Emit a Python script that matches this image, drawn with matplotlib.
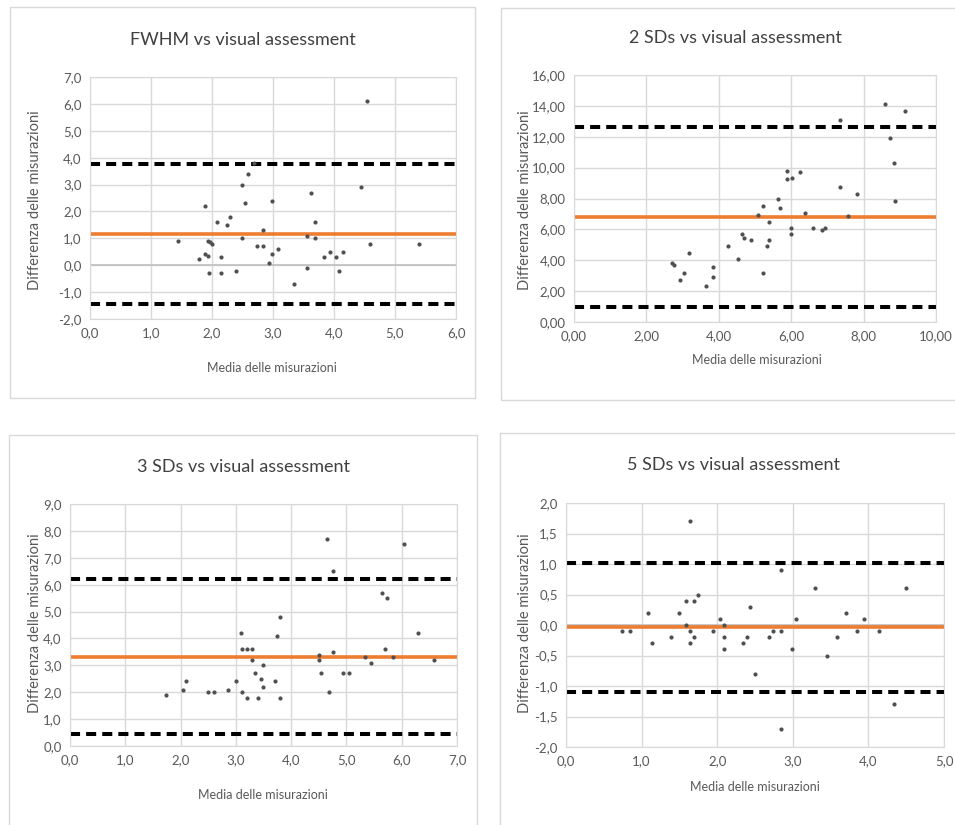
import matplotlib
matplotlib.use("Agg")
import matplotlib.pyplot as plt
from matplotlib.patches import Rectangle
from matplotlib.ticker import MultipleLocator, FuncFormatter

plt.rcParams["font.family"] = ["Lato", "DejaVu Sans"]

# ── Dati (Bland-Altman) ─────────────────────────────────────────────────────
titles = ["FWHM vs visual assessment", "2 SDs vs visual assessment",
          "3 SDs vs visual assessment", "5 SDs vs visual assessment"]
xlabel = "Media delle misurazioni"
ylabel = "Differenza delle misurazioni"

fwhm_x = [1.45, 1.79, 1.89, 1.89, 1.93, 1.93, 1.97, 2.00, 1.95, 2.09, 2.14, 2.14,
          2.25, 2.29, 2.39, 2.49, 2.49, 2.54, 2.59, 2.69, 2.74, 2.84, 2.84, 2.94,
          2.99, 2.99, 3.09, 3.34, 3.55, 3.55, 3.63, 3.69, 3.69, 3.84, 3.94, 4.04,
          4.09, 4.14, 4.44, 4.54, 4.59, 5.40]
fwhm_y = [0.9, 0.25, 2.2, 0.4, 0.35, 0.9, 0.85, 0.8, -0.3, 1.6, 0.3, -0.3,
          1.5, 1.8, -0.2, 3.0, 1.0, 2.3, 3.4, 3.8, 0.7, 1.3, 0.7, 0.1,
          2.4, 0.4, 0.6, -0.7, 1.1, -0.1, 2.7, 1.6, 1.0, 0.3, 0.5, 0.3,
          -0.2, 0.5, 2.9, 6.1, 0.8, 0.8]

sd2_x = [2.70, 2.75, 2.93, 3.04, 3.19, 3.64, 3.84, 3.84, 4.25, 4.54,
         4.63, 4.69, 4.89, 5.09, 5.23, 5.23, 5.32, 5.38, 5.39, 5.64,
         5.69, 5.89, 5.89, 6.03, 6.00, 6.00, 6.23, 6.39, 6.59, 6.84,
         6.92, 7.34, 7.34, 7.58, 7.83, 8.58, 8.74, 8.83, 8.87, 9.14]
sd2_y = [3.85, 3.7, 2.75, 3.15, 4.45, 2.35, 3.55, 2.9, 4.95, 4.1,
         5.7, 5.45, 5.3, 6.9, 7.5, 3.15, 4.95, 5.3, 6.45, 7.95,
         7.4, 9.8, 9.25, 9.3, 6.1, 5.7, 9.7, 7.05, 6.1, 5.95,
         6.1, 8.75, 13.1, 6.85, 8.3, 14.15, 11.9, 10.3, 7.85, 13.65]

sd3_x = [1.74, 2.05, 2.09, 2.50, 2.60, 2.85, 3.00, 3.10, 3.11, 3.11,
         3.20, 3.20, 3.30, 3.30, 3.35, 3.40, 3.45, 3.49, 3.49, 3.70,
         3.74, 3.80, 3.80, 4.50, 4.50, 4.54, 4.64, 4.69, 4.75, 4.75,
         4.94, 5.04, 5.34, 5.45, 5.64, 5.74, 5.69, 5.85, 6.04, 6.29, 6.58]
sd3_y = [1.9, 2.1, 2.4, 2.0, 2.0, 2.1, 2.4, 4.2, 3.6, 2.0,
         3.6, 1.8, 3.6, 3.2, 2.7, 1.8, 2.5, 3.0, 2.2, 2.4,
         4.1, 4.8, 1.8, 3.4, 3.2, 2.7, 7.7, 2.0, 6.5, 3.5,
         2.7, 2.7, 3.3, 3.1, 5.7, 5.5, 3.6, 3.3, 7.5, 4.2, 3.2]

sd5_x = [0.74, 0.84, 1.09, 1.14, 1.39, 1.49, 1.59, 1.59, 1.64, 1.64,
         1.64, 1.69, 1.69, 1.74, 1.94, 2.04, 2.09, 2.09, 2.09, 2.34,
         2.40, 2.44, 2.50, 2.69, 2.74, 2.85, 2.85, 2.85, 2.99, 3.04,
         3.29, 3.45, 3.59, 3.70, 3.85, 3.94, 4.14, 4.34, 4.50]
sd5_y = [-0.1, -0.1, 0.2, -0.3, -0.2, 0.2, 0.4, 0.0, 1.7, -0.1,
         -0.3, 0.4, -0.2, 0.5, -0.1, 0.1, 0.0, -0.2, -0.4, -0.3,
         -0.2, 0.3, -0.8, -0.2, -0.1, 0.9, -0.1, -1.7, -0.4, 0.1,
         0.6, -0.5, -0.2, 0.2, -0.1, 0.1, -0.1, -1.3, 0.6]

# media della differenza e limiti di accordo
bias = [1.17, 6.79, 3.31, -0.04]
upper = [3.78, 12.65, 6.20, 1.02]
lower = [-1.43, 0.97, 0.45, -1.10]

xs = [fwhm_x, sd2_x, sd3_x, sd5_x]
ys = [fwhm_y, sd2_y, sd3_y, sd5_y]

# ── Layout (pixel della figura 955x825) ─────────────────────────────────────
W, H = 955, 825
# area del grafico: x0, y0(top), x1, y1(bottom)
plot_px = [(90, 77, 456, 319), (574, 75, 936, 322),
           (70, 504, 457, 746), (566, 503, 944, 747)]
box_px = [(10, 7, 475, 398), (501, 8, 960, 400),
          (9, 435, 477, 830), (500, 433, 960, 830)]
title_px = [(243, 40), (735, 38), (243, 467), (733, 465)]
xlab_px = [(272, 368), (757, 360), (263, 795), (755, 787)]
ylab_px = [(35, 200), (525, 200), (35, 623), (525, 623)]
xlims = [(0, 6), (0, 10), (0, 7), (0, 5)]
ylims = [(-2, 7), (0, 16), (0, 9), (-2, 2)]
xsteps = [1, 2, 1, 1]
ysteps = [1, 2, 1, 0.5]
decs = [1, 2, 1, 1]

GRID = "#d9d9d9"
TXT = "#595959"

fig = plt.figure(figsize=(W / 100, H / 100), dpi=100)
fig.patch.set_facecolor("white")

for i in range(4):
    bx0, by0, bx1, by1 = box_px[i]
    fig.add_artist(Rectangle((bx0 / W, 1 - by1 / H), (bx1 - bx0) / W, (by1 - by0) / H,
                             transform=fig.transFigure, fill=False,
                             edgecolor=GRID, linewidth=1.0))

    x0, y0, x1, y1 = plot_px[i]
    ax = fig.add_axes([x0 / W, 1 - y1 / H, (x1 - x0) / W, (y1 - y0) / H])
    ax.set_xlim(*xlims[i]); ax.set_ylim(*ylims[i])
    ax.xaxis.set_major_locator(MultipleLocator(xsteps[i]))
    ax.yaxis.set_major_locator(MultipleLocator(ysteps[i]))
    d = decs[i]
    fmt = FuncFormatter(lambda v, p, d=d: f"{v:.{d}f}".replace(".", ",").replace("-0,0", "0,0"))
    ax.xaxis.set_major_formatter(fmt)
    ax.yaxis.set_major_formatter(fmt)
    ax.grid(True, color=GRID, linewidth=1.0)
    ax.set_axisbelow(True)
    for s in ax.spines.values():
        s.set_color(GRID)
    ax.tick_params(length=0, labelsize=9.5, labelcolor=TXT, pad=6)
    if ylims[i][0] < 0:
        ax.axhline(0, color="#bfbfbf", linewidth=1.2, zorder=1)

    ax.axhline(upper[i], color="black", linewidth=2.9, dashes=(2.5, 1.5), zorder=2)
    ax.axhline(lower[i], color="black", linewidth=2.9, dashes=(2.5, 1.5), zorder=2)
    ax.axhline(bias[i], color="#ED7D31", linewidth=2.6, zorder=2)
    ax.plot(xs[i], ys[i], "o", color="#505050", markersize=3.0,
            markeredgewidth=0, zorder=3, clip_on=False)

    tx, ty = title_px[i]
    fig.text(tx / W, 1 - ty / H, titles[i], ha="center", va="center",
             fontsize=13, color="#404040")
    lx, ly = xlab_px[i]
    fig.text(lx / W, 1 - ly / H, xlabel, ha="center", va="center",
             fontsize=9, color=TXT)
    lx, ly = ylab_px[i]
    fig.text(lx / W, 1 - ly / H, ylabel, ha="center", va="center",
             fontsize=10.5, color=TXT, rotation=90)

fig.savefig("out.png", dpi=100)
